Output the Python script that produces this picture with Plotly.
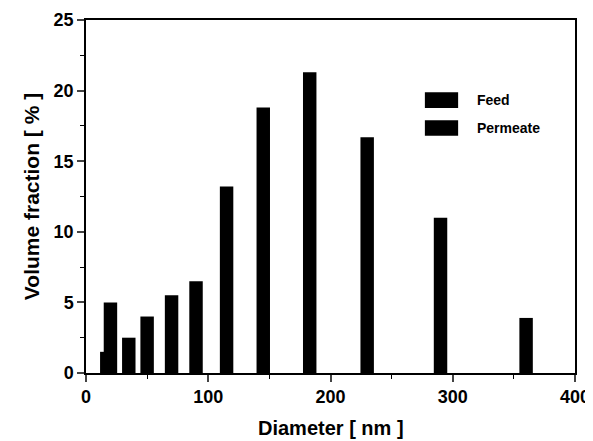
import plotly.graph_objects as go

# Data
feed_d = [17, 115, 145, 183, 230, 290, 360]
feed_v = [1.5, 13.2, 18.8, 21.3, 16.7, 11.0, 3.9]
perm_d = [20, 35, 50, 70, 90]
perm_v = [5.0, 2.5, 4.0, 5.5, 6.5]

x_ticks = [0, 100, 200, 300, 400]
y_ticks = [0, 5, 10, 15, 20, 25]

FONT = "Liberation Sans, Arial, sans-serif"

fig = go.Figure()
fig.add_trace(go.Bar(x=feed_d, y=feed_v, name="Feed", width=11,
                     marker=dict(color="black", line=dict(width=0)), showlegend=False))
fig.add_trace(go.Bar(x=perm_d, y=perm_v, name="Permeate", width=11,
                     marker=dict(color="black", line=dict(width=0)), showlegend=False))

# Legend drawn as swatches + labels
legend_items = ["Feed", "Permeate"]
legend_y = [0.773, 0.694]
shapes = []
annotations = []
for name, yc in zip(legend_items, legend_y):
    shapes.append(dict(type="rect", xref="paper", yref="paper",
                       x0=0.693, x1=0.761, y0=yc - 0.022, y1=yc + 0.022,
                       fillcolor="black", line=dict(width=0)))
    annotations.append(dict(xref="paper", yref="paper", x=0.795, y=yc,
                            xanchor="left", yanchor="middle", showarrow=False,
                            text=name,
                            font=dict(family=FONT, size=14, color="black", weight="bold")))

annotations.append(dict(xref="paper", yref="paper", x=0.5, y=-0.157,
                        xanchor="center", yanchor="middle", showarrow=False,
                        text="Diameter [ nm ]",
                        font=dict(family=FONT, size=20, color="black", weight="bold")))

# page body has an 8px margin, so the figure is sized to fit the window
fig.update_layout(
    width=585, height=433,
    margin=dict(l=78, r=18, t=12, b=68),
    paper_bgcolor="white", plot_bgcolor="white",
    barmode="overlay",
    shapes=shapes, annotations=annotations,
    font=dict(family=FONT, color="black"),
)
fig.update_xaxes(range=[0, 400], tickvals=x_ticks, ticks="outside", ticklen=7,
                 tickwidth=1.5, linecolor="black", linewidth=1.5, mirror=True,
                 showgrid=False, zeroline=False, automargin=False,
                 tickfont=dict(family=FONT, size=18, color="black", weight="bold"),
                 minor=dict(tickvals=[50, 150, 250, 350], ticks="outside", ticklen=4,
                            tickwidth=1.2, tickcolor="black"))
fig.update_yaxes(range=[0, 25], tickvals=y_ticks, ticks="outside", ticklen=7,
                 tickwidth=1.5, linecolor="black", linewidth=1.5, mirror=True,
                 showgrid=False, zeroline=False, automargin=False,
                 tickfont=dict(family=FONT, size=18, color="black", weight="bold"),
                 title=dict(text="Volume fraction [ % ]", standoff=8,
                            font=dict(family=FONT, size=21, color="black", weight="bold")),
                 minor=dict(tickvals=[2.5, 7.5, 12.5, 17.5, 22.5], ticks="outside",
                            ticklen=4, tickwidth=1.2, tickcolor="black"))

fig.write_html("out.html")
